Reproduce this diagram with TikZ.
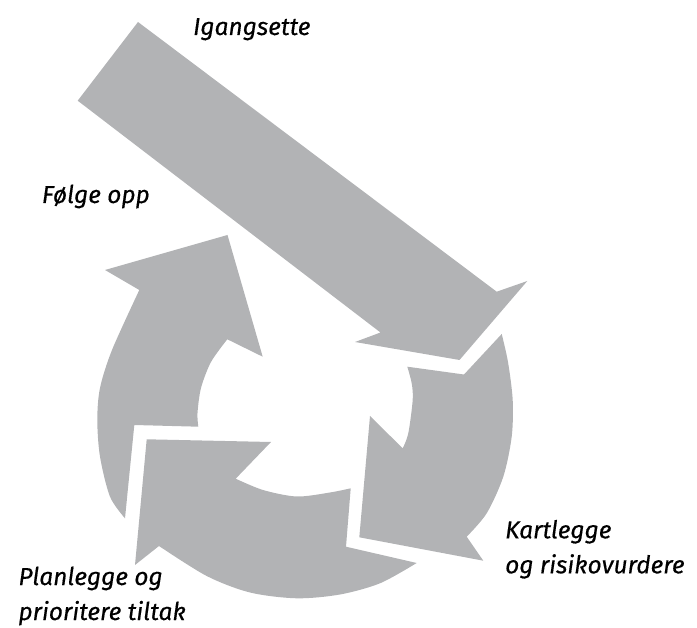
\documentclass[tikz,border=0pt]{standalone}
\usepackage{fontspec}
\setmainfont{Fira Sans}
\newfontfamily\stagefont{Fira Sans}[FakeBold=0.4]
\definecolor{arrowgray}{HTML}{B2B3B5}

\begin{document}
\begin{tikzpicture}[x=1pt,y=-1pt,
  piece/.style={fill=arrowgray},
  lbl/.style={font=\stagefont\fontsize{24.5}{35}\selectfont\itshape, inner sep=0pt, anchor=base west, align=left}]
\useasboundingbox (0,0) rectangle (697,628);
% start arrow
\fill [piece] (138,22) -- (496.7,291.7) -- (527.3,281) -- (459.5,360) -- (355,342) -- (380.5,332.5) -- (77.7,100.7) -- cycle;
% left piece, pointing up
\fill [piece] (227.5,235) -- (262.7,356.7) -- (227.3,339.3)
  -- plot[smooth] coordinates {(227.3,339.3) (211,362) (201,388) (197.5,413) (198.3,426.7)}
  -- (134.3,425) -- (125,518.3)
  -- plot[smooth] coordinates {(125,518.3) (110,496.7) (100,456.7) (97.3,420) (100,388) (112,350) (139.3,290)}
  -- (105,270) -- cycle;
% bottom piece, pointing left
\fill [piece] (146.7,439.3) -- (271,442) -- (235.7,478.7)
  -- plot[smooth] coordinates {(235.7,478.7) (263,490) (296.7,496.5) (330,492.5) (350.7,488.3)}
  -- (346,546.7) -- (416.7,563)
  -- plot[smooth] coordinates {(416.7,563) (380,583.3) (340,594.5) (296.7,598.3) (250,592.5) (206.7,576) (159,546)}
  -- (135,565) -- cycle;
% right piece, pointing down
\fill [piece] (407.3,366.7) -- (464,374.5) -- (501.7,334)
  -- plot[smooth] coordinates {(501.7,334) (508,362) (512.7,400) (511.7,436.7) (503.3,476.7) (486.7,513.3) (466.7,536.7)}
  -- (483.3,560.7) -- (359.3,537.3) -- (370,416) -- (402.7,448.3)
  -- plot[smooth] coordinates {(402.7,448.3) (408.3,433.3) (412.7,400) (411.7,383.3) (407.3,366.7)}
  -- cycle;
% labels
\node [lbl] (igangsette) at (193,35) {Igangsette};
\node [lbl] (folge) at (41.7,203) {Følge opp};
\node [lbl] (kartlegge) at (505,573.3) {Kartlegge\\og risikovurdere};
\node [lbl] (planlegge) at (18.3,620) {Planlegge og\\prioritere tiltak};
\end{tikzpicture}
\end{document}
